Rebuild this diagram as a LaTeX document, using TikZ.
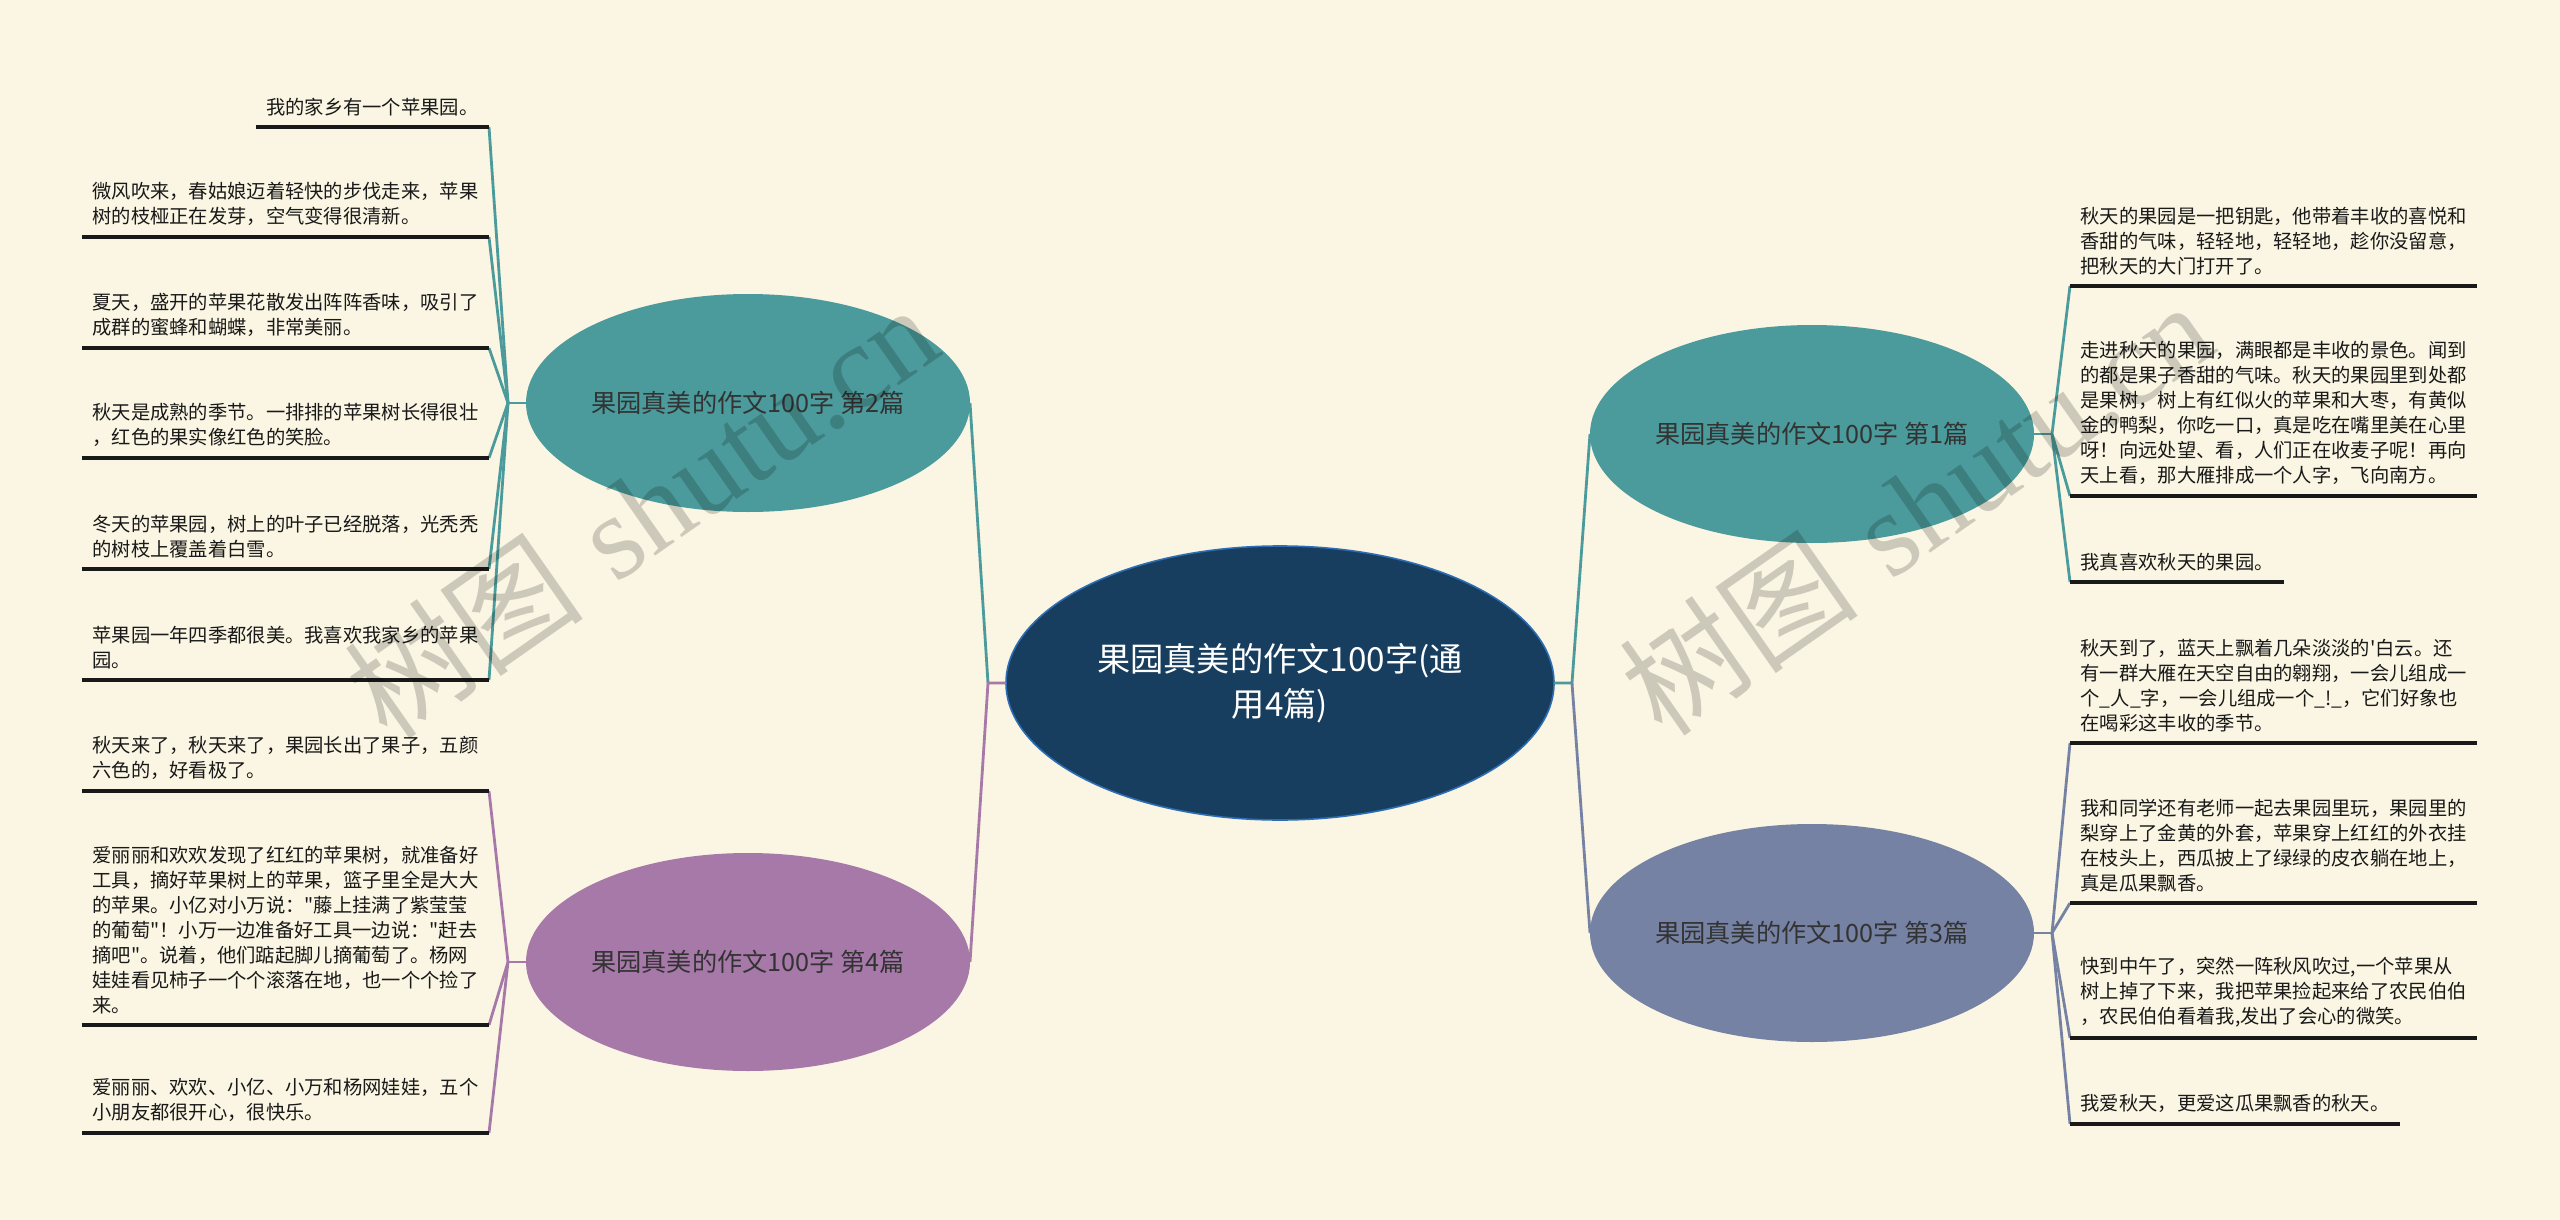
\documentclass[tikz,border=0pt]{standalone}
\usepackage{fontspec}
\newfontfamily\cjk{Noto Sans CJK SC}
\newfontfamily\wmserif{Liberation Serif}
\usetikzlibrary{shapes.geometric}
\definecolor{bg}{HTML}{FAF6E3}
\definecolor{rootfill}{HTML}{173E5E}
\definecolor{rootline}{HTML}{2D6DB5}
\definecolor{tealA}{HTML}{4B9B9C}
\definecolor{lila}{HTML}{A779A9}
\definecolor{slate}{HTML}{7682A4}
\tikzset{
  root/.style={ellipse, draw=rootline, line width=0.8pt, fill=rootfill, text=white,
    inner sep=0pt, outer sep=0pt, minimum width=274pt, minimum height=137pt,
    align=center, font=\cjk\fontsize{16.6pt}{22.5pt}\selectfont},
  topic/.style={ellipse, inner sep=0pt, outer sep=0pt, minimum width=222pt,
    minimum height=109pt, text=black!80, font=\cjk\fontsize{12.6pt}{15pt}\selectfont},
  leaf/.style={font=\cjk\fontsize{9.65pt}{12.5pt}\selectfont, text=black!90,
    align=left, inner xsep=5.3pt, inner ysep=5.5pt, outer sep=0pt},
  leafL/.style={leaf, anchor=south east},
  leafR/.style={leaf, anchor=south west},
  underline/.style={line width=1.8pt, black!90},
  branch/.style={line width=1.4pt},
  wm/.style={text=black, opacity=0.18, rotate=35, anchor=base west,
    font=\fontsize{60pt}{62pt}\selectfont}
}
\begin{document}
\begin{tikzpicture}[x=0.5pt,y=-0.5pt]
\useasboundingbox (0,0) rectangle (2560,1220);
\fill[bg] (0,0) rectangle (2560,1220);

% Mitte und Zweige
\node[root] (root) at (1280,683) {果园真美的作文100字(通\\用4篇)};
\node[topic, fill=tealA] (t2) at (748,403) {果园真美的作文100字 第2篇};
\node[topic, fill=lila] (t4) at (748,962) {果园真美的作文100字 第4篇};
\node[topic, fill=tealA] (t1) at (1812,434) {果园真美的作文100字 第1篇};
\node[topic, fill=slate] (t3) at (1812,933) {果园真美的作文100字 第3篇};

% Blaetter links oben
\node[leafL] (a1) at (489,127) {我的家乡有一个苹果园。};
\node[leafL] (a2) at (489,237) {微风吹来，春姑娘迈着轻快的步伐走来，苹果\\树的枝桠正在发芽，空气变得很清新。};
\node[leafL] (a3) at (489,348) {夏天，盛开的苹果花散发出阵阵香味，吸引了\\成群的蜜蜂和蝴蝶，非常美丽。};
\node[leafL] (a4) at (489,458) {秋天是成熟的季节。一排排的苹果树长得很壮\\，红色的果实像红色的笑脸。};
\node[leafL] (a5) at (489,569) {冬天的苹果园，树上的叶子已经脱落，光秃秃\\的树枝上覆盖着白雪。};
\node[leafL] (a6) at (489,680) {苹果园一年四季都很美。我喜欢我家乡的苹果\\园。};

% Blaetter links unten
\node[leafL] (b1) at (489,791) {秋天来了，秋天来了，果园长出了果子，五颜\\六色的，好看极了。};
\node[leafL] (b2) at (489,1025) {爱丽丽和欢欢发现了红红的苹果树，就准备好\\工具，摘好苹果树上的苹果，篮子里全是大大\\的苹果。小亿对小万说："藤上挂满了紫莹莹\\的葡萄"！小万一边准备好工具一边说："赶去\\摘吧"。说着，他们踮起脚儿摘葡萄了。杨网\\娃娃看见柿子一个个滚落在地，也一个个捡了\\来。};
\node[leafL] (b3) at (489,1133) {爱丽丽、欢欢、小亿、小万和杨网娃娃，五个\\小朋友都很开心，很快乐。};

% Blaetter rechts oben
\node[leafR] (c1) at (2070,286) {秋天的果园是一把钥匙，他带着丰收的喜悦和\\香甜的气味，轻轻地，轻轻地，趁你没留意，\\把秋天的大门打开了。};
\node[leafR] (c2) at (2070,496) {走进秋天的果园，满眼都是丰收的景色。闻到\\的都是果子香甜的气味。秋天的果园里到处都\\是果树，树上有红似火的苹果和大枣，有黄似\\金的鸭梨，你吃一口，真是吃在嘴里美在心里\\呀！向远处望、看，人们正在收麦子呢！再向\\天上看，那大雁排成一个人字，飞向南方。};
\node[leafR] (c3) at (2070,582) {我真喜欢秋天的果园。};

% Blaetter rechts unten
\node[leafR] (d1) at (2070,743) {秋天到了，蓝天上飘着几朵淡淡的'白云。还\\有一群大雁在天空自由的翱翔，一会儿组成一\\个\_人\_字，一会儿组成一个\_!\_，它们好象也\\在喝彩这丰收的季节。};
\node[leafR] (d2) at (2070,903) {我和同学还有老师一起去果园里玩，果园里的\\梨穿上了金黄的外套，苹果穿上红红的外衣挂\\在枝头上，西瓜披上了绿绿的皮衣躺在地上，\\真是瓜果飘香。};
\node[leafR] (d3) at (2070,1038) {快到中午了，突然一阵秋风吹过,一个苹果从\\树上掉了下来，我把苹果捡起来给了农民伯伯\\，农民伯伯看着我,发出了会心的微笑。};
\node[leafR] (d4) at (2070,1124) {我爱秋天，更爱这瓜果飘香的秋天。};

% Verbindungen
\coordinate (jl) at ([xshift=-9pt]root.west);
\coordinate (jr) at ([xshift=9pt]root.east);
\draw[branch, tealA] (jl) -- (t2.east);
\draw[branch, lila] (root.west) -- (jl) -- (t4.east);
\draw[branch, tealA] (root.east) -- (jr) -- (t1.west);
\draw[branch, slate] (jr) -- (t3.west);

\coordinate (j2) at ([xshift=-9pt]t2.west);
\coordinate (j4) at ([xshift=-9pt]t4.west);
\coordinate (j1) at ([xshift=9pt]t1.east);
\coordinate (j3) at ([xshift=9pt]t3.east);
\draw[branch, tealA] (t2.west) -- (j2);
\draw[branch, lila] (t4.west) -- (j4);
\draw[branch, tealA] (t1.east) -- (j1);
\draw[branch, slate] (t3.east) -- (j3);
\foreach \n in {a1,a2,a3,a4,a5,a6} {
  \draw[branch, tealA] (j2) -- (\n.south east);
  \draw[underline] (\n.south west) -- (\n.south east);
}
\foreach \n in {b1,b2,b3} {
  \draw[branch, lila] (j4) -- (\n.south east);
  \draw[underline] (\n.south west) -- (\n.south east);
}
\foreach \n in {c1,c2,c3} {
  \draw[branch, tealA] (j1) -- (\n.south west);
  \draw[underline] (\n.south west) -- (\n.south east);
}
\foreach \n in {d1,d2,d3,d4} {
  \draw[branch, slate] (j3) -- (\n.south west);
  \draw[underline] (\n.south west) -- (\n.south east);
}

% Wasserzeichen
\node[wm] (wm1) at (383,747) {{\cjk 树图} {\wmserif shutu.cn}};
\node[wm] (wm2) at (1658,744) {{\cjk 树图} {\wmserif shutu.cn}};
\end{tikzpicture}
\end{document}
